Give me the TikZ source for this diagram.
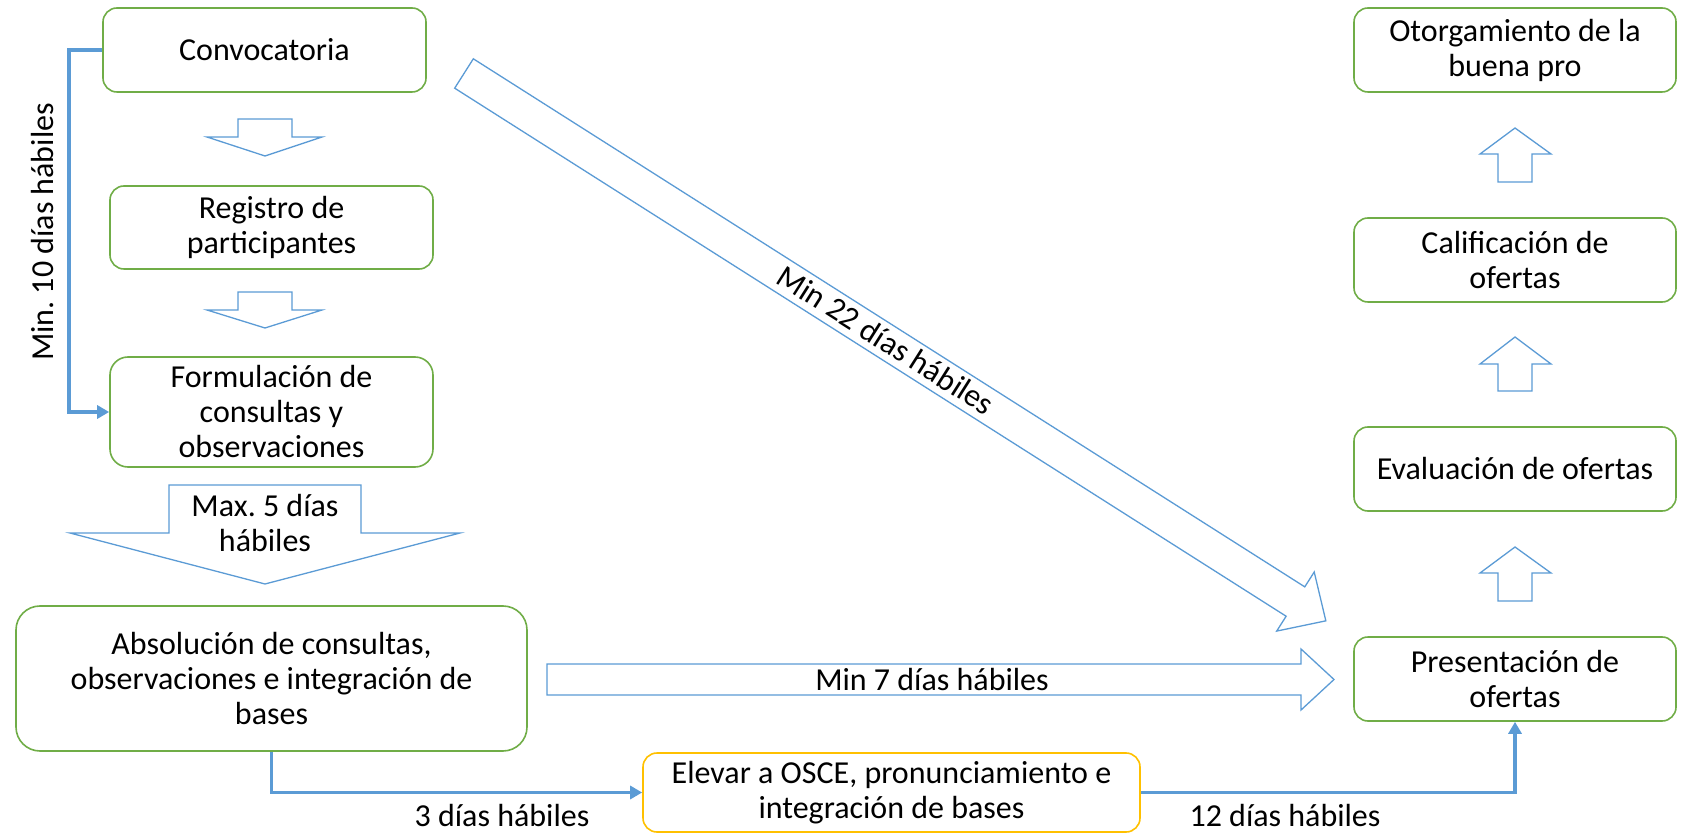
\documentclass[tikz,border=0pt]{standalone}
\usepackage{fontspec}
\setmainfont{Carlito}
\usetikzlibrary{arrows.meta}
\definecolor{oblue}{RGB}{91,155,213}
\definecolor{ogreen}{RGB}{112,173,71}
\definecolor{oyellow}{RGB}{255,192,0}
\frenchspacing
\begin{document}
\begin{tikzpicture}[x=0.5pt,y=-0.5pt,
  box/.style={draw=ogreen, line width=0.8pt, rounded corners=7pt, align=center, inner sep=0pt,
    font=\fontsize{16}{17.5}\selectfont, minimum width=161.5pt, minimum height=42pt},
  blockarrow/.style={draw=oblue, line width=0.65pt, fill=white, line join=miter},
  conn/.style={draw=oblue, line width=1.75pt, -{Triangle[length=6pt,width=6.5pt]}},
  lbl/.style={font=\fontsize{16}{17.5}\selectfont, inner sep=0pt, align=center}]
\useasboundingbox (0,0) rectangle (1685,833);

% left column boxes
\node[box] (conv) at (264.5,50) {Convocatoria};
\node[box, minimum height=41.5pt] (reg) at (271.5,227.5) {Registro de\\participantes};
\node[box, minimum height=55pt, rounded corners=9pt] (form) at (271.5,412) {Formulación de\\consultas y\\observaciones};
\node[box, minimum width=255.5pt, minimum height=72.5pt, rounded corners=12pt] (abs) at (271.5,678.5)
  {Absolución de consultas,\\observaciones e integración de\\bases};
\node[box, draw=oyellow, minimum width=248.5pt, minimum height=39.5pt] (elev) at (891.5,792.5)
  {Elevar a OSCE, pronunciamiento e\\integración de bases};

% right column boxes
\node[box, minimum width=161pt] (otor) at (1515,50) {Otorgamiento de la\\buena pro};
\node[box, minimum width=161pt] (cal) at (1515,260) {Calificación de\\ofertas};
\node[box, minimum width=161pt] (eval) at (1515,469) {Evaluación de ofertas};
\node[box, minimum width=161pt] (pres) at (1515,679) {Presentación de\\ofertas};

% small down block arrows
\draw[blockarrow] (238,119) -- (292,119) -- (292,137) -- (322,137) -- (265,156) -- (207,137) -- (238,137) -- cycle;
\draw[blockarrow] (238,292) -- (292,292) -- (292,310) -- (322,310) -- (265,328) -- (207,310) -- (238,310) -- cycle;

% Max. 5 block arrow
\draw[blockarrow] (169,485) -- (361,485) -- (361,533) -- (460,533) -- (265,584) -- (70,533) -- (169,533) -- cycle;
\node[lbl] (l5) at (265,523) {Max. 5 días\\hábiles};

% Min 7 block arrow
\draw[blockarrow] (547,664) -- (1301,664) -- (1301,649) -- (1334,679.5) -- (1301,710) -- (1301,695) -- (547,695) -- cycle;
\node[lbl] (l7) at (932,679.5) {Min 7 días hábiles};

% up block arrows
\draw[blockarrow] (1515,128) -- (1551,154) -- (1532,154) -- (1532,182) -- (1498,182) -- (1498,154) -- (1480,154) -- cycle;
\draw[blockarrow] (1515,337) -- (1551,364) -- (1532,364) -- (1532,391) -- (1498,391) -- (1498,364) -- (1480,364) -- cycle;
\draw[blockarrow] (1515,547) -- (1551,573) -- (1532,573) -- (1532,601) -- (1498,601) -- (1498,573) -- (1480,573) -- cycle;

% diagonal block arrow
\begin{scope}[shift={(464,73.5)}, rotate=-32.42]
\draw[blockarrow] (0,-17.4) -- (985,-17.4) -- (985,-35) -- (1021,0) -- (985,35) -- (985,17.4) -- (0,17.4) -- cycle;
\end{scope}
\node[lbl, rotate=-32.42] (l22) at (886,340) {Min 22 días hábiles};

% connectors
\draw[conn] (conv.west) -- ++(-33,0) |- (form.west);
\draw[conn] (abs.south) |- (elev.west);
\draw[conn] (elev.east) -| (pres.south);

% connector labels
\node[lbl, rotate=90] (l10) at (43,232) {Min. 10 días hábiles};
\node[lbl] (l3) at (502,816) {3 días hábiles};
\node[lbl] (l12) at (1285,816) {12 días hábiles};
\end{tikzpicture}
\end{document}
